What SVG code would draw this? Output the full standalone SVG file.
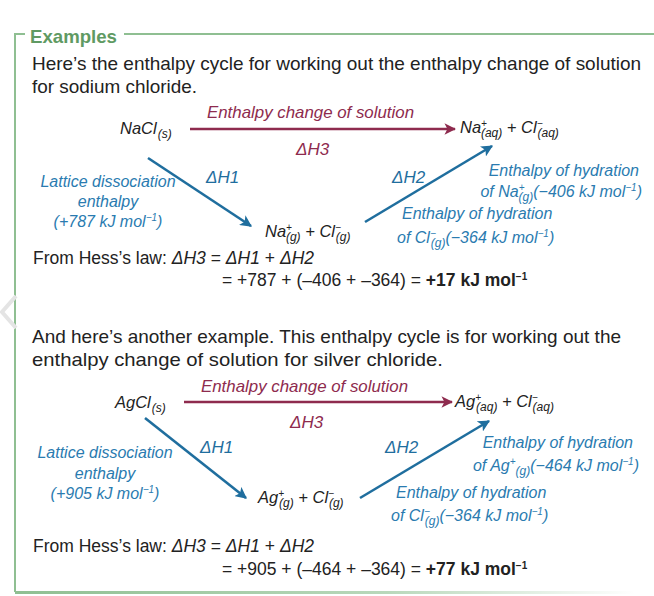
<svg xmlns="http://www.w3.org/2000/svg" width="654" height="596" viewBox="0 0 654 596">
<defs>
<linearGradient id="bg" x1="0" x2="1"><stop offset="0" stop-color="#8fbf92"/><stop offset="0.6" stop-color="#b9d8bb"/><stop offset="1" stop-color="#ffffff"/></linearGradient>
<marker id="ab" viewBox="0 0 10 10" refX="9" refY="5" markerWidth="4.5" markerHeight="4.5" orient="auto" markerUnits="strokeWidth"><path d="M0,0 L10,5 L0,10 L2.5,5 z" fill="#1f6e9e"/></marker>
<marker id="ar" viewBox="0 0 10 10" refX="9" refY="5" markerWidth="4.5" markerHeight="4.5" orient="auto" markerUnits="strokeWidth"><path d="M0,0 L10,5 L0,10 L2.5,5 z" fill="#8e2b4e"/></marker>
</defs>
<style>
text{font-family:"Liberation Sans",Arial,sans-serif;}
.b{font-size:18.5px;fill:#222;}
.h{font-size:17.5px;fill:#222;}
.i{font-style:italic;font-size:16.5px;fill:#222;}
.bl{font-style:italic;font-size:16px;fill:#2a7bb0;}
.bd{font-style:italic;font-size:17px;fill:#1f6e9e;}
.rd{font-style:italic;font-size:17px;fill:#8e2b4e;}
.s{font-size:10px;}
.sb{font-size:12px;}
.ab{stroke:#1f6e9e;stroke-width:2.6;fill:none;marker-end:url(#ab);}
.ar{stroke:#8e2b4e;stroke-width:2.6;fill:none;marker-end:url(#ar);}
</style>
<rect width="654" height="596" fill="#fff"/>
<g id="frame">
<path d="M25,34 H15 V592" stroke="#8fbf92" stroke-width="2" fill="none"/>
<line x1="124" y1="34" x2="654" y2="34" stroke="#8fbf92" stroke-width="2"/>
<rect x="15" y="591" width="620" height="3" fill="url(#bg)"/>
<path d="M16,296 L2,312 L16,328" stroke="#e4e4e4" stroke-width="4" fill="none"/>
<text x="30" y="43" style="font-size:19px;font-weight:bold;fill:#5f9a63" textLength="87" lengthAdjust="spacingAndGlyphs">Examples</text>
</g>
<text class="b" x="32" y="70" textLength="609" lengthAdjust="spacingAndGlyphs">Here’s the enthalpy cycle for working out the enthalpy change of solution</text>
<text class="b" x="32" y="93" textLength="165" lengthAdjust="spacingAndGlyphs">for sodium chloride.</text>

<g id="connectors">
<line class="ar" x1="190" y1="129" x2="455" y2="129"/>
<line class="ab" x1="148" y1="158" x2="251" y2="226"/>
<line class="ab" x1="365" y1="222" x2="492" y2="146"/>
<line class="ar" x1="184" y1="402" x2="452" y2="402"/>
<line class="ab" x1="145" y1="418" x2="246" y2="498"/>
<line class="ab" x1="360" y1="498" x2="489" y2="421"/>
</g>

<g id="d1">
<text class="rd" x="207" y="118" textLength="207" lengthAdjust="spacingAndGlyphs">Enthalpy change of solution</text>
<text class="rd" x="296" y="155">ΔH3</text>
<text class="i" x="120" y="134">NaCl<tspan class="sb" dx="1" dy="4">(s)</tspan></text>
<text class="i" x="460" y="133">Na<tspan class="s" dy="-6">+</tspan><tspan class="sb" dx="-6" dy="10">(aq)</tspan><tspan dy="-4"> + Cl</tspan><tspan class="s" dy="-6">−</tspan><tspan class="sb" dx="-5" dy="10">(aq)</tspan></text>
<text class="bd" x="206" y="183">ΔH1</text>
<text class="bd" x="392" y="183">ΔH2</text>
<text class="bl" x="108" y="187" text-anchor="middle">Lattice dissociation</text>
<text class="bl" x="108" y="207" text-anchor="middle">enthalpy</text>
<text class="bl" x="108" y="227" text-anchor="middle">(+787 kJ mol<tspan class="s" dy="-6">−1</tspan><tspan dy="6">)</tspan></text>
<text class="i" x="265" y="237">Na<tspan class="s" dy="-6">+</tspan><tspan class="sb" dx="-6" dy="10">(g)</tspan><tspan dy="-4"> + Cl</tspan><tspan class="s" dy="-6">−</tspan><tspan class="sb" dx="-5" dy="10">(g)</tspan></text>
<text class="bl" x="639" y="176" text-anchor="end">Enthalpy of hydration</text>
<text class="bl" x="642" y="197" text-anchor="end">of Na<tspan class="s" dy="-6">+</tspan><tspan class="sb" dx="-6" dy="10">(g)</tspan><tspan dy="-4">(−406 kJ mol</tspan><tspan class="s" dy="-6">−1</tspan><tspan dy="6">)</tspan></text>
<text class="bl" x="402" y="219">Enthalpy of hydration</text>
<text class="bl" x="397" y="243">of Cl<tspan class="s" dy="-6">−</tspan><tspan class="sb" dx="-5" dy="10">(g)</tspan><tspan dy="-4">(−364 kJ mol</tspan><tspan class="s" dy="-6">−1</tspan><tspan dy="6">)</tspan></text>
</g>
<text class="h" x="33" y="264">From Hess’s law:  <tspan font-style="italic">ΔH3</tspan> = <tspan font-style="italic">ΔH1</tspan> + <tspan font-style="italic">ΔH2</tspan></text>
<text class="h" x="222" y="286">= +787 + (–406 + –364) = <tspan font-weight="bold">+17 kJ mol<tspan class="s" dy="-6">−1</tspan></tspan></text>

<text class="b" x="32" y="343" textLength="589" lengthAdjust="spacingAndGlyphs">And here’s another example.  This enthalpy cycle is for working out the</text>
<text class="b" x="32" y="366" textLength="411" lengthAdjust="spacingAndGlyphs">enthalpy change of solution for silver chloride.</text>

<g id="d2">
<text class="rd" x="201" y="392" textLength="207" lengthAdjust="spacingAndGlyphs">Enthalpy change of solution</text>
<text class="rd" x="290" y="428">ΔH3</text>
<text class="i" x="115" y="408">AgCl<tspan class="sb" dx="1" dy="4">(s)</tspan></text>
<text class="i" x="455" y="407">Ag<tspan class="s" dy="-6">+</tspan><tspan class="sb" dx="-5" dy="10">(aq)</tspan><tspan dy="-4"> + Cl</tspan><tspan class="s" dy="-6">−</tspan><tspan class="sb" dx="-5" dy="10">(aq)</tspan></text>
<text class="bd" x="200" y="453">ΔH1</text>
<text class="bd" x="385" y="453">ΔH2</text>
<text class="bl" x="105" y="458" text-anchor="middle">Lattice dissociation</text>
<text class="bl" x="105" y="479" text-anchor="middle">enthalpy</text>
<text class="bl" x="105" y="499" text-anchor="middle">(+905 kJ mol<tspan class="s" dy="-6">−1</tspan><tspan dy="6">)</tspan></text>
<text class="i" x="258" y="503">Ag<tspan class="s" dy="-6">+</tspan><tspan class="sb" dx="-5" dy="10">(g)</tspan><tspan dy="-4"> + Cl</tspan><tspan class="s" dy="-6">−</tspan><tspan class="sb" dx="-5" dy="10">(g)</tspan></text>
<text class="bl" x="633" y="448" text-anchor="end">Enthalpy of hydration</text>
<text class="bl" x="639" y="471" text-anchor="end">of Ag<tspan class="s" dy="-6">+</tspan><tspan class="sb" dy="10">(g)</tspan><tspan dy="-4">(−464 kJ mol</tspan><tspan class="s" dy="-6">−1</tspan><tspan dy="6">)</tspan></text>
<text class="bl" x="396" y="498">Enthalpy of hydration</text>
<text class="bl" x="391" y="521">of Cl<tspan class="s" dy="-6">−</tspan><tspan class="sb" dx="-5" dy="10">(g)</tspan><tspan dy="-4">(−364 kJ mol</tspan><tspan class="s" dy="-6">−1</tspan><tspan dy="6">)</tspan></text>
</g>
<text class="h" x="33" y="552">From Hess’s law:  <tspan font-style="italic">ΔH3</tspan> = <tspan font-style="italic">ΔH1</tspan> + <tspan font-style="italic">ΔH2</tspan></text>
<text class="h" x="222" y="575">= +905 + (–464 + –364) = <tspan font-weight="bold">+77 kJ mol<tspan class="s" dy="-6">−1</tspan></tspan></text>
</svg>
